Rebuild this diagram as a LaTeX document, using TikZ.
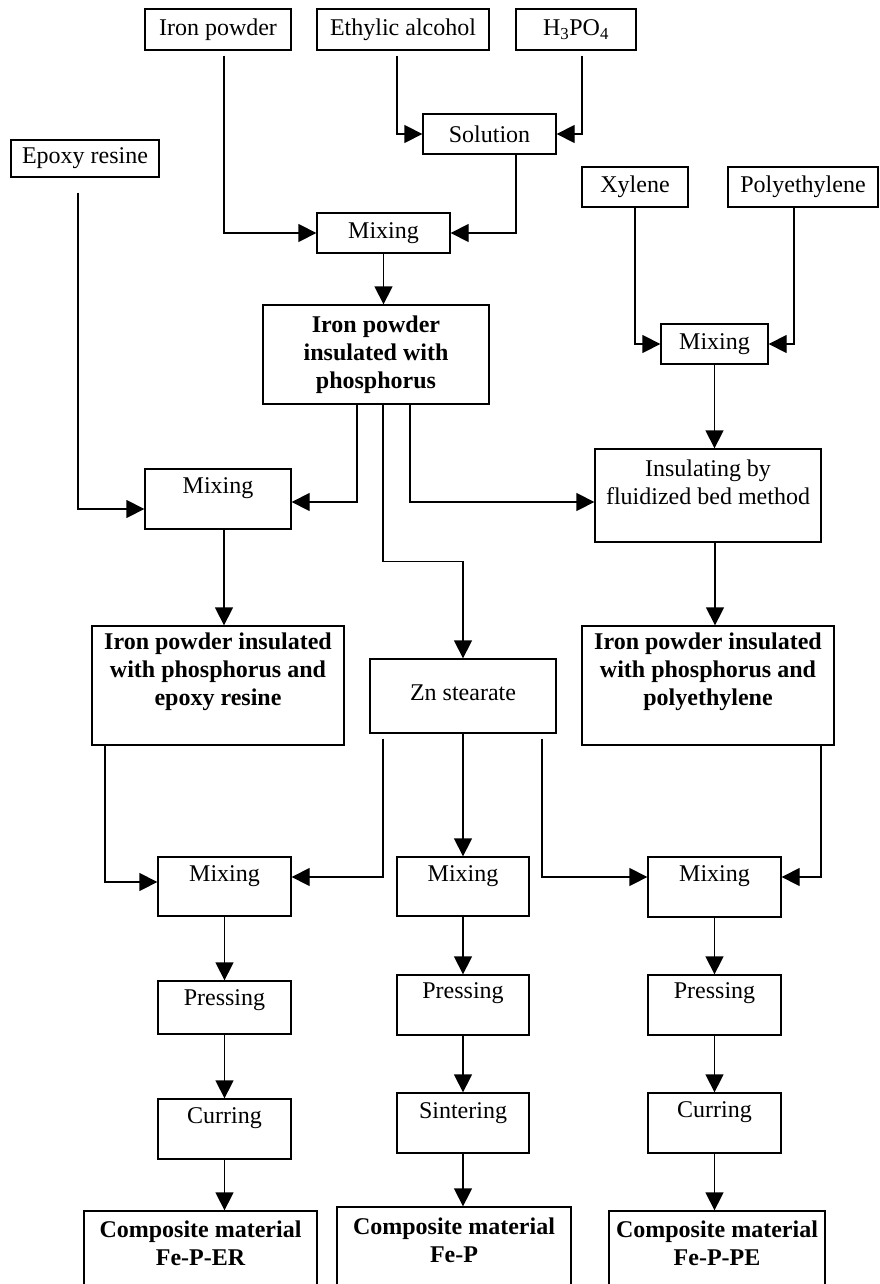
\documentclass[tikz,border=0pt]{standalone}
\usepackage{fontspec}
\setmainfont{Liberation Serif}
\usetikzlibrary{arrows.meta}

\begin{document}
\begin{tikzpicture}[x=1pt, y=-1pt, line width=1.3pt,
    font=\fontsize{24}{28}\selectfont,
    box/.style={draw, rectangle, inner sep=0pt},
    lbl/.style={align=center},
    bold/.style={font=\fontsize{24}{28}\selectfont\bfseries, align=center},
    >={Triangle[length=18pt,width=18pt]}]
          \useasboundingbox (0,0) rectangle (879,1284);
          % raw materials
          \node[box, minimum width=146pt, minimum height=41pt] (ironp) at (218,29.5) {Iron powder};
          \node[box, minimum width=172pt, minimum height=41pt] (ethyl) at (403,29.5) {Ethylic alcohol};
          \node[box, minimum width=120pt, minimum height=41pt] (hpo) at (576,29.5) {H\textsubscript{3}PO\textsubscript{4}};
          \node[box, minimum width=133pt, minimum height=40pt] (sol) at (489.5,134) {Solution};
          \node[box, minimum width=148pt, minimum height=37pt] (epoxy) at (85,158.5) {Epoxy resine};
          \node[box, minimum width=106pt, minimum height=40pt] (xyl) at (635,187) {Xylene};
          \node[box, minimum width=150pt, minimum height=40pt] (poly) at (803,187) {Polyethylene};
          \node[box, minimum width=133pt, minimum height=40pt] (mixA) at (383.5,233) {Mixing};
          \node[box, minimum width=226pt, minimum height=99pt, bold] (ipins) at (376,354.5) {Iron powder\\insulated with\\phosphorus};
          \node[box, minimum width=107pt, minimum height=40pt] (mixB) at (714.5,344) {Mixing};
          % second level
          \node[box, minimum width=226pt, minimum height=93pt] (fluid) at (708,495.5) {};
          \node[lbl] (fluid-t) at ([yshift=13pt]fluid.center) {Insulating by\\fluidized bed method};
          \node[box, minimum width=146pt, minimum height=60pt] (mixC) at (218,499) {};
          \node (mixC-t) at ([yshift=11pt]mixC.center) {Mixing};
          \node[box, minimum width=252pt, minimum height=119pt] (ipER) at (218,685.5) {};
          \node[bold] (ipER-t) at ([yshift=13.5pt]ipER.center) {Iron powder insulated\\with phosphorus and\\epoxy resine};
          \node[box, minimum width=186pt, minimum height=74pt] (zn) at (463,696) {};
          \node (zn-t) at ([yshift=3.5pt]zn.center) {Zn stearate};
          \node[box, minimum width=252pt, minimum height=119pt] (ipPE) at (708,685.5) {};
          \node[bold] (ipPE-t) at ([yshift=13.5pt]ipPE.center) {Iron powder insulated\\with phosphorus and\\polyethylene};
          % three lines of processing
          \node[box, minimum width=133pt, minimum height=59pt] (mixD) at (224.5,886.5) {};
          \node (mixD-t) at ([yshift=10.5pt]mixD.center) {Mixing};
          \node[box, minimum width=132pt, minimum height=59pt] (mixE) at (463,886.5) {};
          \node (mixE-t) at ([yshift=10.5pt]mixE.center) {Mixing};
          \node[box, minimum width=133pt, minimum height=60pt] (mixF) at (714.5,887) {};
          \node (mixF-t) at ([yshift=11pt]mixF.center) {Mixing};
          \node[box, minimum width=133pt, minimum height=53pt] (prD) at (224.5,1007.5) {};
          \node (prD-t) at ([yshift=7.5pt]prD.center) {Pressing};
          \node[box, minimum width=132pt, minimum height=60pt] (prE) at (463,1005) {};
          \node (prE-t) at ([yshift=12pt]prE.center) {Pressing};
          \node[box, minimum width=133pt, minimum height=60pt] (prF) at (714.5,1005) {};
          \node (prF-t) at ([yshift=12pt]prF.center) {Pressing};
          \node[box, minimum width=133pt, minimum height=60pt] (curD) at (224.5,1129) {};
          \node (curD-t) at ([yshift=11pt]curD.center) {Curring};
          \node[box, minimum width=132pt, minimum height=60pt] (sinE) at (463,1123) {};
          \node (sinE-t) at ([yshift=10pt]sinE.center) {Sintering};
          \node[box, minimum width=133pt, minimum height=60pt] (curF) at (714.5,1123) {};
          \node (curF-t) at ([yshift=11pt]curF.center) {Curring};
          \node[box, minimum width=233pt, minimum height=89pt] (compD) at (200.5,1255.5) {};
          \node[bold] (compD-t) at ([yshift=-33pt]compD.north) {Composite material\\Fe-P-ER};
          \node[box, minimum width=234pt, minimum height=93pt] (compE) at (454,1253.5) {};
          \node[bold] (compE-t) at ([yshift=-34pt]compE.north) {Composite material\\Fe-P};
          \node[box, minimum width=216pt, minimum height=89pt] (compF) at (717,1255.5) {};
          \node[bold] (compF-t) at ([yshift=-33pt]compF.north) {Composite material\\Fe-P-PE};
          % connectors
          \draw[->, shorten <=5pt] ([xshift=6pt]ironp.south) |- (mixA.west);
          \draw[->, shorten <=5pt] ([xshift=-6pt]ethyl.south) |- (sol.west);
          \draw[->, shorten <=5pt] ([xshift=6pt]hpo.south) |- (sol.east);
          \draw[->] ([xshift=26.5pt]sol.south) |- (mixA.east);
          \draw[->] (mixA.south) -- (mixA.south |- ipins.north);
          \draw[->, shorten <=15pt] ([xshift=-7pt]epoxy.south) |- ([yshift=-10pt]mixC.west);
          \draw[->] (xyl.south) |- (mixB.west);
          \draw[->] ([xshift=-9pt]poly.south) |- (mixB.east);
          \draw[->] (mixB.south) -- (mixB.south |- fluid.north);
          \draw[->] ([xshift=-19pt]ipins.south) |- ([yshift=-3pt]mixC.east);
          \draw[->] ([xshift=7pt]ipins.south) -- ++(0,157) -| (zn.north);
          \draw[->] ([xshift=34pt]ipins.south) |- ([yshift=-6.5pt]fluid.west);
          \draw[->] ([xshift=6pt]mixC.south) -- ([xshift=6pt]ipER.north);
          \draw[->] ([xshift=7pt]fluid.south) -- ([xshift=7pt]ipPE.north);
          \draw[->] ([xshift=-113pt]ipER.south) |- ([yshift=4.5pt]mixD.west);
          \draw[->, shorten <=5pt] ([xshift=-80pt]zn.south) |- ([yshift=9.5pt]mixD.east);
          \draw[->] (zn.south) -- (mixE.north);
          \draw[->, shorten <=5pt] ([xshift=79pt]zn.south) |- ([yshift=10pt]mixF.west);
          \draw[->] ([xshift=113pt]ipPE.south) |- ([yshift=10pt]mixF.east);
          \foreach \a/\b in {mixD/prD, prD/curD, mixE/prE, prE/sinE, mixF/prF, prF/curF}
          {
          \draw[->] (\a) -- (\b);
          }
          \foreach \a/\b in {curD/compD, sinE/compE, curF/compF}
          {
          \draw[->] (\a.south) -- (\a.south |- \b.north);
          }
        \end{tikzpicture}
\end{document}
